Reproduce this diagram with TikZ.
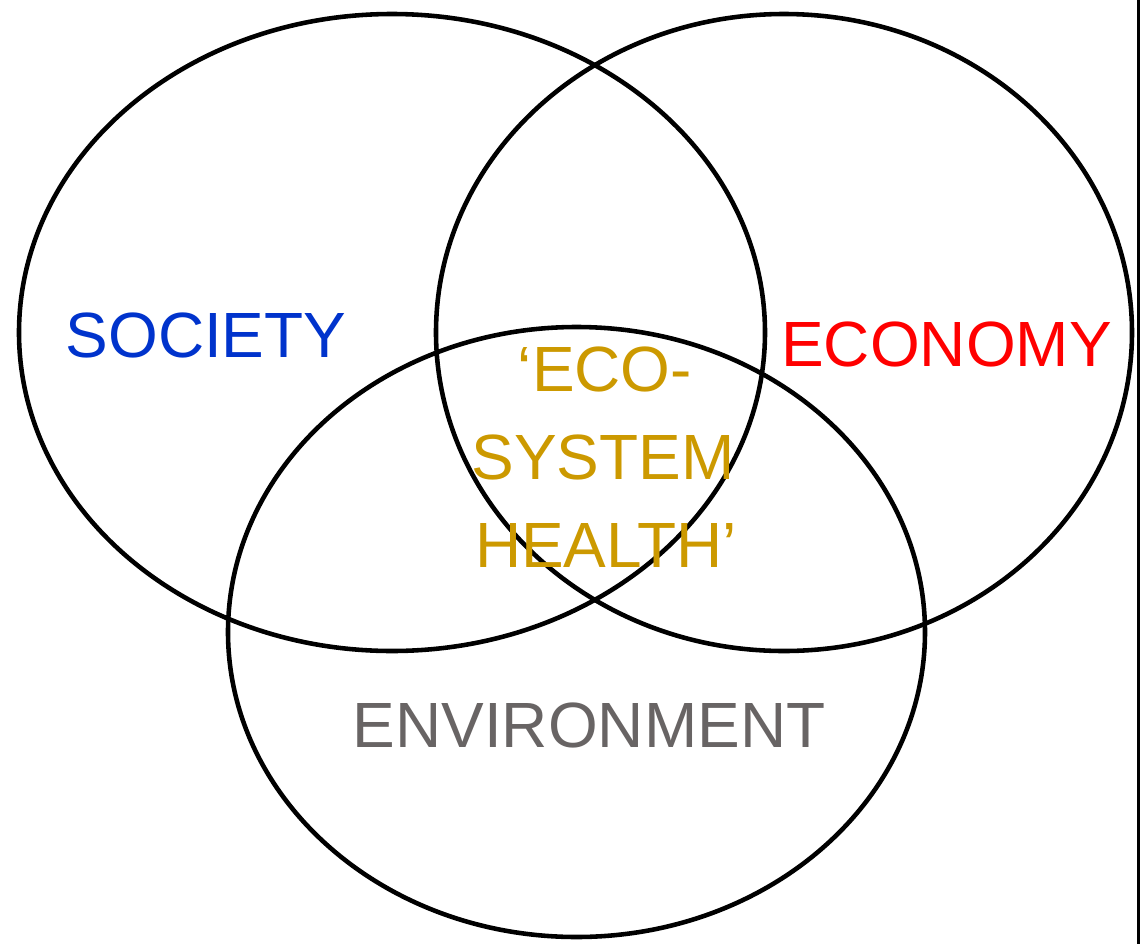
\documentclass[tikz,border=0pt]{standalone}
\usepackage{fontspec}
\setmainfont{Liberation Sans}
\definecolor{socblue}{HTML}{0033CC}
\definecolor{ecored}{HTML}{FF0000}
\definecolor{envgray}{HTML}{686464}
\definecolor{ecogold}{HTML}{CC9900}
\tikzset{
  ring/.style={draw=black, line width=2.6pt},
  lbl/.style={anchor=base, inner sep=0pt, font=\fontsize{36.4}{42}\selectfont}
}
\begin{document}
\begin{tikzpicture}[x=0.02cm, y=-0.02cm]
\useasboundingbox (0,0) rectangle (1144,944);
\draw[ring] (392,332.5) ellipse [x radius=373, y radius=318.5];
\draw[ring] (784,332.5) ellipse [x radius=348, y radius=318.5];
\draw[ring] (576.5,632) ellipse [x radius=348.5, y radius=305];
\draw[line width=1.5pt] (1138.5,0) -- (1138.5,944);
\node[lbl, text=socblue] (soc) at (206,357) {SOCIETY};
\node[lbl, text=ecored] (eco) at (946.5,366) {ECONOMY};
\node[lbl, text=envgray] (env) at (589,747) {ENVIRONMENT};
\node[lbl, text=ecogold] (h1) at (605,391) {‘ECO-};
\node[lbl, text=ecogold] (h2) at (603,479) {SYSTEM};
\node[lbl, text=ecogold] (h3) at (606,567) {HEALTH’};
\end{tikzpicture}
\end{document}
